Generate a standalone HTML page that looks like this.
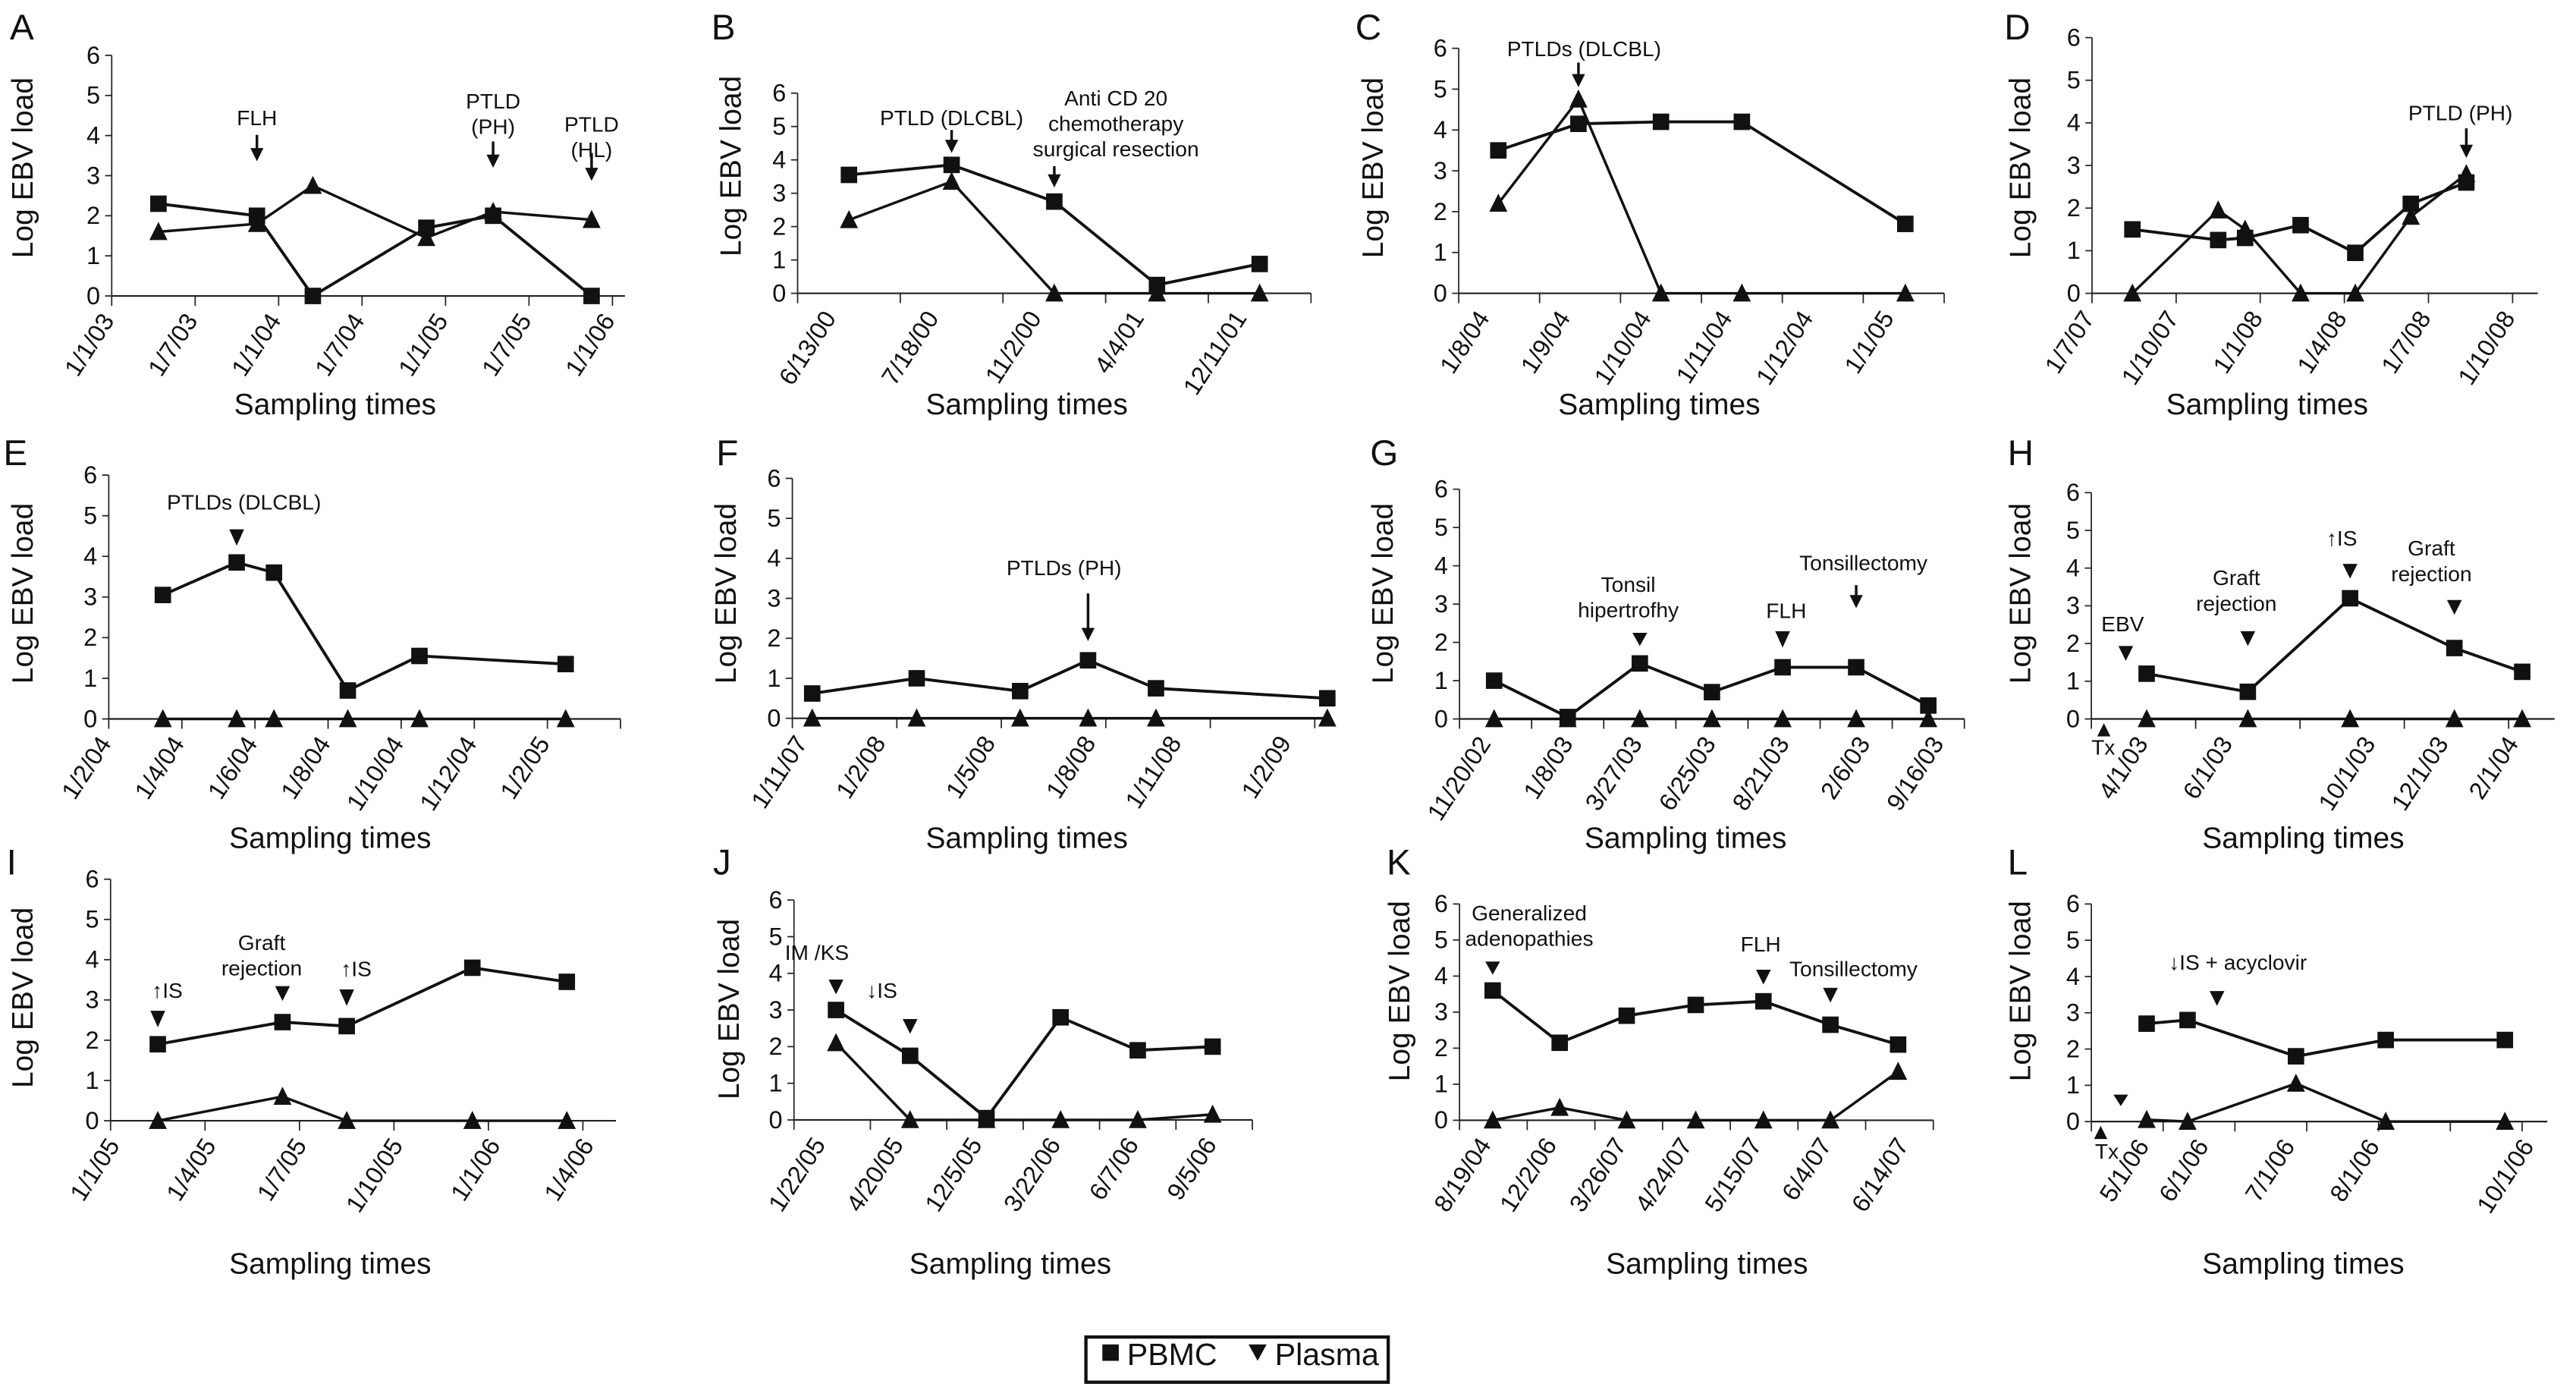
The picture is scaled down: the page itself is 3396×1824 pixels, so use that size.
<!DOCTYPE html>
<html><head><meta charset="utf-8">
<style>
html,body{margin:0;padding:0;background:#fff;}
svg{display:block;}
text{font-family:"Liberation Sans",sans-serif;fill:#111;}
.nar{font-family:"Liberation Sans Narrow","Liberation Sans",sans-serif;}
</style></head>
<body>
<svg id="fig" xmlns="http://www.w3.org/2000/svg" width="3396" height="1824" viewBox="0 0 1568 842">
<rect x="0" y="0" width="1568" height="842" fill="#fff"/>
<g>
<rect x="661" y="813.5" width="184" height="27.5" fill="none" stroke="#111" stroke-width="2"/>
<rect x="671" y="818" width="10" height="10" fill="#111"/>
<text x="686" y="830.5" font-size="19">PBMC</text>
<polygon points="760,818 771,818 765.5,828" fill="#111"/>
<text x="776" y="830.5" font-size="19">Plasma</text>
</g>
</svg>
<script>
// ---- data (x positions in axis tick units = sampling dates) ----
const A_labels=["1/1/03","1/7/03","1/1/04","1/7/04","1/1/05","1/7/05","1/1/06"];
const A_labelPos=[0,1,2,3,4,5,6];
const A_t=[0.56,1.74,2.41,3.77,4.57,5.75];
const A_pbmc=[2.3,2.0,0,1.7,2.0,0];
const A_plasma=[1.6,1.8,2.75,1.45,2.1,1.9];

const B_labels=["6/13/00","7/18/00","11/2/00","4/4/01","12/11/01"];
const B_labelPos=[0.35,1.35,2.35,3.35,4.35];
const B_t=[0.5,1.5,2.5,3.5,4.5];
const B_pbmc=[3.55,3.85,2.75,0.25,0.88];
const B_plasma=[2.2,3.35,0,0,0];

const C_labels=["1/8/04","1/9/04","1/10/04","1/11/04","1/12/04","1/1/05"];
const C_labelPos=[0.35,1.35,2.35,3.35,4.35,5.35];
const C_t=[0.49,1.48,2.5,3.5,5.52];
const C_pbmc=[3.5,4.15,4.2,4.2,1.7];
const C_plasma=[2.2,4.75,0,0,0];

const D_labels=["1/7/07","1/10/07","1/1/08","1/4/08","1/7/08","1/10/08"];
const D_labelPos=[0,1,2,3,4,5];
const D_t=[0.48,1.5,1.82,2.48,3.13,3.79,4.45];
const D_pbmc=[1.5,1.25,1.3,1.6,0.95,2.1,2.6];
const D_plasma=[0,1.95,1.5,0,0,1.8,2.8];

const E_labels=["1/2/04","1/4/04","1/6/04","1/8/04","1/10/04","1/12/04","1/2/05"];
const E_labelPos=[0,1,2,3,4,5,6];
const E_t=[0.74,1.75,2.26,3.27,4.25,6.25];
const E_pbmc=[3.05,3.85,3.6,0.7,1.55,1.35];
const E_plasma=[0,0,0,0,0,0];

const F_labels=["1/11/07","1/2/08","1/5/08","1/8/08","1/11/08","1/2/09"];
const F_labelPos=[0.12,0.87,1.92,2.88,3.7,4.75];
const F_t=[0.19,1.19,2.18,2.83,3.48,5.12];
const F_pbmc=[0.62,1.0,0.68,1.45,0.75,0.5];
const F_plasma=[0,0,0,0,0,0];

const G_labels=["11/20/02","1/8/03","3/27/03","6/25/03","8/21/03","2/6/03","9/16/03"];
const G_labelPos=[0.4,1.54,2.5,3.52,4.54,5.66,6.68];
const G_t=[0.48,1.5,2.5,3.5,4.48,5.5,6.5];
const G_pbmc=[1.0,0.05,1.45,0.7,1.35,1.35,0.35];
const G_plasma=[0,0,0,0,0,0,0];

const H_labels=["4/1/03","6/1/03","10/1/03","12/1/03","2/1/04"];
const H_labelPos=[0.52,1.33,2.7,3.4,4.07];
const H_t=[0.53,1.5,2.48,3.48,4.13];
const H_pbmc=[1.2,0.72,3.2,1.88,1.25];
const H_plasma=[0,0,0,0,0];

const I_labels=["1/1/05","1/4/05","1/7/05","1/10/05","1/1/06","1/4/06"];
const I_labelPos=[0.07,1.09,2.05,3.07,4.1,5.09];
const I_t=[0.5,1.82,2.5,3.83,4.83];
const I_pbmc=[1.9,2.45,2.35,3.8,3.45];
const I_plasma=[0,0.6,0,0,0];

const J_labels=["1/22/05","4/20/05","12/5/05","3/22/06","6/7/06","9/5/06"];
const J_labelPos=[0.38,1.4,2.43,3.46,4.48,5.5];
const J_t=[0.55,1.52,2.52,3.49,4.5,5.48];
const J_pbmc=[3.0,1.75,0.05,2.8,1.9,2.0];
const J_plasma=[2.1,0,0,0,0,0.15];

const K_labels=["8/19/04","12/2/06","3/26/07","4/24/07","5/15/07","6/4/07","6/14/07"];
const K_labelPos=[0.43,1.4,2.43,3.4,4.43,5.46,6.6];
const K_t=[0.49,1.48,2.47,3.49,4.49,5.48,6.48];
const K_pbmc=[3.6,2.15,2.9,3.2,3.3,2.65,2.1];
const K_plasma=[0,0.35,0,0,0,0,1.35];

const L_labels=["5/1/06","6/1/06","7/1/06","8/1/06","10/1/06"];
const L_labelPos=[0.77,1.6,2.8,3.98,6.13];
const L_t=[0.77,1.34,2.85,4.1,5.76];
const L_pbmc=[2.7,2.8,1.8,2.25,2.25];
const L_plasma=[0.05,0,1.05,0,0];

const yTicks=[0,1,2,3,4,5,6];

// ---- layout ----
const NS="http://www.w3.org/2000/svg";
const svg=document.getElementById('fig');
function mk(tag,attrs,parent){const e=document.createElementNS(NS,tag);for(const k in attrs)e.setAttribute(k,attrs[k]);(parent||svg).appendChild(e);return e;}

const panels=[
 {id:"A",ax:68,step:50.8,y0:180,y6:33.6,nt:6,end:6.15,letter:[6,24],ytl:[14,102],st:[204,252],labels:A_labels,lp:A_labelPos,t:A_t,p:A_pbmc,q:A_plasma,
  ann:[["text",1.74,76,["FLH"]],["arrow",1.74,82,98],["text",4.57,66,["PTLD","(PH)"]],["arrow",4.57,86,102],["text",5.75,80,["PTLD","(HL)"]],["arrow",5.75,93,110]]},
 {id:"B",ax:485.5,step:62.5,y0:178.4,y6:56.6,nt:5,end:5,letter:[433,24],ytl:[445,101],st:[625,252],labels:B_labels,lp:B_labelPos,t:B_t,p:B_pbmc,q:B_plasma,
  ann:[["text",1.5,76,["PTLD (DLCBL)"]],["arrow",1.5,79,93],["text",3.1,64,["Anti CD 20","chemotherapy","surgical resection"]],["arrow",2.5,101,114]]},
 {id:"C",ax:887.9,step:49.25,y0:178.4,y6:29.3,nt:6,end:6,letter:[825,24],ytl:[836,102],st:[1010,252],labels:C_labels,lp:C_labelPos,t:C_t,p:C_pbmc,q:C_plasma,
  ann:[["text",1.55,34,["PTLDs (DLCBL)"]],["arrow",1.48,38,53]]},
 {id:"D",ax:1273.4,step:51.2,y0:178.4,y6:22.8,nt:5,end:5.3,letter:[1220,24],ytl:[1230,102],st:[1380,252],labels:D_labels,lp:D_labelPos,t:D_t,p:D_pbmc,q:D_plasma,
  ann:[["text",4.38,73,["PTLD (PH)"]],["arrow",4.45,78,96]]},
 {id:"E",ax:66.2,step:44.5,y0:437.4,y6:289,nt:7,end:7,letter:[2,283],ytl:[14,361],st:[201,516],labels:E_labels,lp:E_labelPos,t:E_t,p:E_pbmc,q:E_plasma,
  ann:[["text",1.85,310,["PTLDs (DLCBL)"]],["head",1.75,322,332]]},
 {id:"F",ax:482.3,step:63.6,y0:437,y6:291,nt:5,end:5.15,letter:[436,283],ytl:[442,361],st:[625,516],labels:F_labels,lp:F_labelPos,t:F_t,p:F_pbmc,q:F_plasma,
  ann:[["text",2.6,350,["PTLDs (PH)"]],["arrow",2.83,361,390]]},
 {id:"G",ax:888.4,step:43.9,y0:437.4,y6:297.6,nt:7,end:7,letter:[834,283],ytl:[842,361],st:[1026,516],labels:G_labels,lp:G_labelPos,t:G_t,p:G_pbmc,q:G_plasma,
  ann:[["text",2.34,360,["Tonsil","hipertrofhy"]],["head",2.5,385,393],["text",4.53,376,["FLH"]],["head",4.48,384,394],["text",5.6,347,["Tonsillectomy"]],["arrow",5.5,356,370]]},
 {id:"H",ax:1273,step:63.5,y0:437.4,y6:299.7,nt:4,end:4.44,letter:[1222,283],ytl:[1230,361],st:[1402,516],labels:H_labels,lp:H_labelPos,t:H_t,p:H_pbmc,q:H_plasma,
  ann:[["up",0.12,440,448],["textL",0.0,459,["Tx"]],["text",0.3,384,["EBV"]],["head",0.33,393,402],["text",1.39,356,["Graft","rejection"]],["head",1.5,384,393],["text",2.4,332,["↑IS"]],["head",2.48,343,352],["text",3.26,338,["Graft","rejection"]],["head",3.48,365,374]]},
 {id:"I",ax:67.3,step:57.5,y0:681.9,y6:534.9,nt:5,end:5.35,letter:[4,532],ytl:[14,607],st:[201,775],labels:I_labels,lp:I_labelPos,t:I_t,p:I_pbmc,q:I_plasma,
  ann:[["text",0.6,607,["↑IS"]],["head",0.5,615,625],["text",1.6,578,["Graft","rejection"]],["head",1.82,600,609],["text",2.6,594,["↑IS"]],["head",2.5,602,612]]},
 {id:"J",ax:483.3,step:46.5,y0:681.4,y6:547.6,nt:6,end:6,letter:[434,532],ytl:[444,614],st:[615,775],labels:J_labels,lp:J_labelPos,t:J_t,p:J_pbmc,q:J_plasma,
  ann:[["text",0.3,584,["IM /KS"]],["head",0.55,596,605],["text",1.15,607,["↓IS"]],["head",1.52,620,629]]},
 {id:"K",ax:888.4,step:41.2,y0:681.6,y6:550,nt:7,end:7,letter:[844,532],ytl:[852,603],st:[1039,775],labels:K_labels,lp:K_labelPos,t:K_t,p:K_pbmc,q:K_plasma,
  ann:[["text",1.03,560,["Generalized","adenopathies"]],["head",0.49,585,593],["text",4.45,579,["FLH"]],["head",4.49,590,599],["text",5.82,594,["Tonsillectomy"]],["head",5.48,601,610]]},
 {id:"L",ax:1273,step:43.7,y0:682.4,y6:550,nt:6,end:6.35,letter:[1222,532],ytl:[1230,603],st:[1402,775],labels:L_labels,lp:L_labelPos,t:L_t,p:L_pbmc,q:L_plasma,
  ann:[["up",0.13,685,693],["textL",0.05,705,["Tx"]],["head",0.41,666,673],["text",2.04,590,["↓IS + acyclovir"]],["head",1.75,603,612]]}
];

panels.forEach(P=>{
 const g=mk('g',{});
 
 
 const X=u=>P.ax+u*P.step;
 const Y=v=>P.y0+(P.y6-P.y0)*v/6;
 const L=mk('text',{x:P.letter[0],y:P.letter[1],'font-size':22},g);
 L.textContent=P.id;
 
 
 const yt=mk('text',{x:P.ytl[0],y:P.ytl[1],'font-size':18,'text-anchor':'middle',transform:`rotate(-90 ${P.ytl[0]} ${P.ytl[1]})`,'dominant-baseline':'central'},g);
 yt.textContent='Log EBV load';
 
 
 const xt=mk('text',{x:P.st[0],y:P.st[1],'font-size':18,'text-anchor':'middle'},g);
 xt.textContent='Sampling times';
 
 
 const ya=mk('line',{x1:P.ax,y1:Y(6),x2:P.ax,y2:P.y0,stroke:'#222','stroke-width':0.8},g);
 
 
 const xa=mk('line',{x1:P.ax,y1:P.y0,x2:X(P.end),y2:P.y0,stroke:'#222','stroke-width':1},g);
 
 
 yTicks.forEach(v=>{
  mk('line',{x1:P.ax-4,y1:Y(v),x2:P.ax,y2:Y(v),stroke:'#222','stroke-width':0.8},g);
  const t=mk('text',{x:P.ax-7,y:Y(v)+5,'font-size':15,'text-anchor':'end'},g);
  t.textContent=v;
  
  
 });
 for(let i=0;i<=P.nt;i++){
  mk('line',{x1:X(i),y1:P.y0,x2:X(i),y2:P.y0+6,stroke:'#222','stroke-width':0.8},g);
 }
 P.labels.forEach((s,i)=>{
  const x=X(P.lp[i])+2, y=P.y0+15;
  const t=mk('text',{x:x,y:y,'font-size':15,'text-anchor':'end',transform:`rotate(-57 ${x} ${y})`},g);
  t.textContent=s;
  
  
 });
 const qp=P.t.map((u,i)=>X(u)+','+Y(P.q[i])).join(' ');
 const ql=mk('polyline',{points:qp,fill:'none',stroke:'#111','stroke-width':1.6},g);
 
 
 const pp=P.t.map((u,i)=>X(u)+','+Y(P.p[i])).join(' ');
 const pl=mk('polyline',{points:pp,fill:'none',stroke:'#111','stroke-width':1.8},g);
 
 
 P.t.forEach((u,i)=>{
  const x=X(u),y=Y(P.p[i]);
  const r=mk('rect',{x:x-5,y:y-5,width:10,height:10,fill:'#111'},g);
  
  
 });
 P.t.forEach((u,i)=>{
  const x=X(u),y=Y(P.q[i]);
  const tr=mk('polygon',{points:`${x-5.5},${y+5} ${x+5.5},${y+5} ${x},${y-6}`,fill:'#111'},g);
  
  
 });
 P.ann.forEach(a=>{
  const x=X(a[1]);
  if(a[0]==='text'||a[0]==='textL'){
   a[3].forEach((s,k)=>{
    const t=mk('text',{x:x,y:a[2]+k*15.5,'font-size':13,'text-anchor':a[0]==='text'?'middle':'start'},g);
    t.setAttribute('class','nar');
    t.textContent=s;
    
    
   });
  } else if(a[0]==='arrow'){
   const l=mk('line',{x1:x,y1:a[2],x2:x,y2:a[3]-5,stroke:'#111','stroke-width':1.6},g);
   
   
   mk('polygon',{points:`${x-4},${a[3]-8} ${x+4},${a[3]-8} ${x},${a[3]}`,fill:'#111'},g);
  } else if(a[0]==='head'){
   const h=mk('polygon',{points:`${x-4.5},${a[2]} ${x+4.5},${a[2]} ${x},${a[3]}`,fill:'#111'},g);
   
   
  } else if(a[0]==='up'){
   const h=mk('polygon',{points:`${x-4},${a[3]} ${x+4},${a[3]} ${x},${a[2]}`,fill:'#111'},g);
   
   
  }
 });
});
</script>
</body></html>
